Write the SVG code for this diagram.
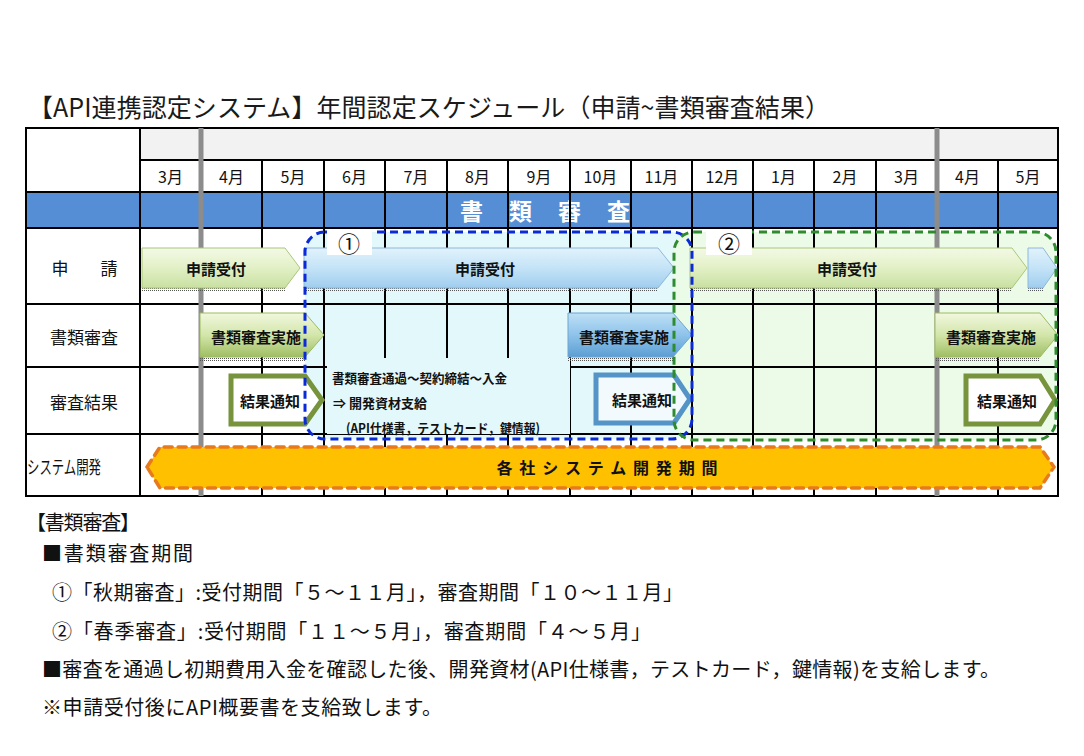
<svg xmlns="http://www.w3.org/2000/svg" width="1084" height="756" viewBox="0 0 1084 756">
<style>
text{font-family:"Noto Sans CJK JP","Noto Sans",sans-serif;fill:#111}
.m{font-size:16px;text-anchor:middle;dominant-baseline:central}
.rl{font-size:17px;text-anchor:middle;dominant-baseline:central}
.at{font-size:15px;font-weight:bold;text-anchor:middle;dominant-baseline:central}
.nt{font-size:13px;font-weight:bold;dominant-baseline:central}
.bt{font-size:20px;dominant-baseline:central}
.grid{stroke:#000;stroke-width:2;fill:none}
.gray{stroke:#8C8C8C;stroke-width:5}
.gA{fill:url(#gLight);stroke:#A9C77A;stroke-width:1}
.gB{fill:url(#gDark);stroke:#9DBB61;stroke-width:1}
.bA{fill:url(#bLight);stroke:#8DB8DA;stroke-width:1}
.bB{fill:url(#bDark);stroke:#6FA6D2;stroke-width:1}
.gO{fill:#FFFFFF;stroke:#77933C;stroke-width:5;stroke-linejoin:miter}
.bO{fill:#F2FAFD;stroke:#5494C6;stroke-width:5;stroke-linejoin:miter}
.shadow{fill:url(#dots)}
</style>
<defs>
<linearGradient id="gLight" x1="0" y1="0" x2="0" y2="1">
<stop offset="0" stop-color="#F3F9E6"/><stop offset="0.5" stop-color="#E2F0C6"/><stop offset="1" stop-color="#C8E0A0"/>
</linearGradient>
<linearGradient id="gDark" x1="0" y1="0" x2="0" y2="1">
<stop offset="0" stop-color="#F1F7DF"/><stop offset="0.5" stop-color="#D3E6AA"/><stop offset="1" stop-color="#9FBE63"/>
</linearGradient>
<linearGradient id="bLight" x1="0" y1="0" x2="0" y2="1">
<stop offset="0" stop-color="#E1F2FC"/><stop offset="0.5" stop-color="#C4E3F7"/><stop offset="1" stop-color="#9FCDEE"/>
</linearGradient>
<linearGradient id="bDark" x1="0" y1="0" x2="0" y2="1">
<stop offset="0" stop-color="#BEE0F5"/><stop offset="0.5" stop-color="#8EC3EA"/><stop offset="1" stop-color="#5B9ED3"/>
</linearGradient>
<pattern id="dots" width="2" height="2" patternUnits="userSpaceOnUse">
<rect width="1" height="1" fill="#555"/>
</pattern>
</defs>
<rect width="1084" height="756" fill="#FFFFFF"/>

<g id="title">
<text x="28" y="106" textLength="802" lengthAdjust="spacing" style="font-size:25px;dominant-baseline:central;fill:#1a1a1a">【API連携認定システム】年間認定スケジュール（申請~書類審査結果）</text>
</g>

<g id="table">
<rect x="140" y="128" width="918" height="32" fill="#F2F2F2"/>
<rect x="26" y="192" width="1032" height="36" fill="#558ED5"/>
<text x="460" y="210" textLength="170" lengthAdjust="spacing" style="font-size:23px;font-weight:bold;fill:#FFFFFF;dominant-baseline:central">書類審査</text>
</g>

<g id="period1-area">
<rect x="305" y="232" width="387" height="207" rx="20" fill="#E3F8FB"/>
</g>
<g id="period2-area">
<rect x="674" y="232" width="382" height="208" rx="20" fill="#EAFBE4" fill-opacity="0.9"/>
</g>

<g id="grid">
<path class="grid" d="M26,128H1058V496H26Z M140,128V496 M140,160H1058 M26,192H1058 M26,228H1058 M26,304H1058 M26,367H1058 M26,434H1058"/>
<path class="grid" d="M262,160V496 M324,160V496 M385,160V496 M447,160V496 M508,160V496 M570,160V496 M631,160V496 M692,160V496 M753,160V496 M814,160V496 M876,160V496 M998,160V496"/>
<path class="gray" d="M201,128V496 M937,128V496"/>
</g>

<g id="months">
<text class="m" x="170.5" y="176">3月</text>
<text class="m" x="231.5" y="176">4月</text>
<text class="m" x="293" y="176">5月</text>
<text class="m" x="354.5" y="176">6月</text>
<text class="m" x="416" y="176">7月</text>
<text class="m" x="477.5" y="176">8月</text>
<text class="m" x="539" y="176">9月</text>
<text class="m" x="600.5" y="176">10月</text>
<text class="m" x="661.5" y="176">11月</text>
<text class="m" x="722.5" y="176">12月</text>
<text class="m" x="783.5" y="176">1月</text>
<text class="m" x="845" y="176">2月</text>
<text class="m" x="906.5" y="176">3月</text>
<text class="m" x="967.5" y="176">4月</text>
<text class="m" x="1028" y="176">5月</text>
</g>

<g id="row-labels">
<text class="rl" x="60" y="267">申</text>
<text class="rl" x="109" y="267">請</text>
<text class="rl" x="84" y="336">書類審査</text>
<text class="rl" x="84" y="401">審査結果</text>
<text class="rl" x="64" y="466" textLength="74" lengthAdjust="spacingAndGlyphs" style="font-size:18px">システム開発</text>
</g>

<g id="note">
<rect x="327" y="358" width="243" height="76" fill="#E3F8FB"/>
<text class="nt" x="332" y="377" textLength="175" lengthAdjust="spacingAndGlyphs">書類審査通過～契約締結～入金</text>
<text class="nt" x="333" y="402">⇒ 開発資材支給</text>
<text class="nt" x="346" y="427" textLength="194" lengthAdjust="spacingAndGlyphs">(API仕様書，テストカード，鍵情報)</text>
</g>

<g id="apply-1">
<rect class="shadow" x="142" y="288" width="143" height="4"/>
<path class="gA" d="M142,248H285L300,268L285,288H142Z"/>
<text class="at" x="216" y="268">申請受付</text>
</g>
<g id="apply-2">
<rect class="shadow" x="304" y="288" width="354" height="4"/>
<path class="bA" d="M304,248H658L674,268L658,288H304Z"/>
<text class="at" x="485" y="268">申請受付</text>
</g>
<g id="apply-3">
<rect class="shadow" x="690" y="288" width="322" height="4"/>
<path class="gA" d="M690,248H1012L1027,268L1012,288H690Z"/>
<text class="at" x="847" y="268">申請受付</text>
</g>
<g id="apply-4">
<rect class="shadow" x="1028" y="288" width="15" height="4"/>
<path class="bA" d="M1028,248H1043L1057,268L1043,288H1028Z"/>
</g>

<g id="review-1">
<rect class="shadow" x="200" y="357" width="105" height="4"/>
<path class="gB" d="M200,313H305L324,335L305,357H200Z"/>
<text class="at" x="256" y="336">書類審査実施</text>
</g>
<g id="review-2">
<rect class="shadow" x="568" y="357" width="105" height="4"/>
<path class="bB" d="M568,313H673L692,335L673,357H568Z"/>
<text class="at" x="624" y="336">書類審査実施</text>
</g>
<g id="review-3">
<rect class="shadow" x="935" y="357" width="105" height="4"/>
<path class="gB" d="M935,313H1040L1058,335L1040,357H935Z"/>
<text class="at" x="991" y="336">書類審査実施</text>
</g>

<g id="result-1">
<path class="gO" d="M231,376H305L322,400L305,424H231Z"/>
<text class="at" x="270" y="400">結果通知</text>
</g>
<g id="result-2">
<path class="bO" d="M596,375H674L690,399L674,423H596Z"/>
<text class="at" x="642" y="399">結果通知</text>
</g>
<g id="result-3">
<path class="gO" d="M966,376H1040L1055,400L1040,424H966Z"/>
<text class="at" x="1007" y="400">結果通知</text>
</g>

<g id="dev-period">
<path d="M147,467L160,447H1040L1054,467L1040,488H160Z" fill="#FFC000" stroke="#E87A1E" stroke-width="3.5" stroke-dasharray="8 6" stroke-linecap="round"/>
<text x="607" y="467" textLength="221" lengthAdjust="spacing" style="font-size:16px;font-weight:bold;text-anchor:middle;dominant-baseline:central">各社システム開発期間</text>
</g>

<g id="period1">
<rect x="305" y="232" width="387" height="207" rx="20" fill="none" stroke="#0A2AD8" stroke-width="3" stroke-dasharray="8 5"/>
<rect x="327" y="229" width="45" height="26" fill="#FFFFFF"/>
<text x="349" y="242" style="font-size:22px;text-anchor:middle;dominant-baseline:central">①</text>
</g>
<g id="period2">
<rect x="674" y="232" width="382" height="208" rx="20" fill="none" stroke="#2E8B2E" stroke-width="3" stroke-dasharray="8 5"/>
<rect x="706" y="229" width="46" height="26" fill="#FFFFFF"/>
<text x="729" y="242" style="font-size:22px;text-anchor:middle;dominant-baseline:central">②</text>
</g>

<g id="connectors"></g>

<g id="notes">
<text class="bt" x="26" y="521" textLength="114" lengthAdjust="spacing">【書類審査】</text>
<text class="bt" x="42" y="552" textLength="151" lengthAdjust="spacing">■書類審査期間</text>
<text class="bt" x="52" y="591" textLength="631" lengthAdjust="spacing">①「秋期審査」:受付期間「５～１１月」，審査期間「１０～１１月」</text>
<text class="bt" x="52" y="630" textLength="599" lengthAdjust="spacing">②「春季審査」:受付期間「１１～５月」，審査期間「４～５月」</text>
<text class="bt" x="42" y="668" textLength="958" lengthAdjust="spacing">■審査を通過し初期費用入金を確認した後、開発資材(API仕様書，テストカード，鍵情報)を支給します。</text>
<text class="bt" x="42" y="706" textLength="400" lengthAdjust="spacing">※申請受付後にAPI概要書を支給致します。</text>
</g>
</svg>
